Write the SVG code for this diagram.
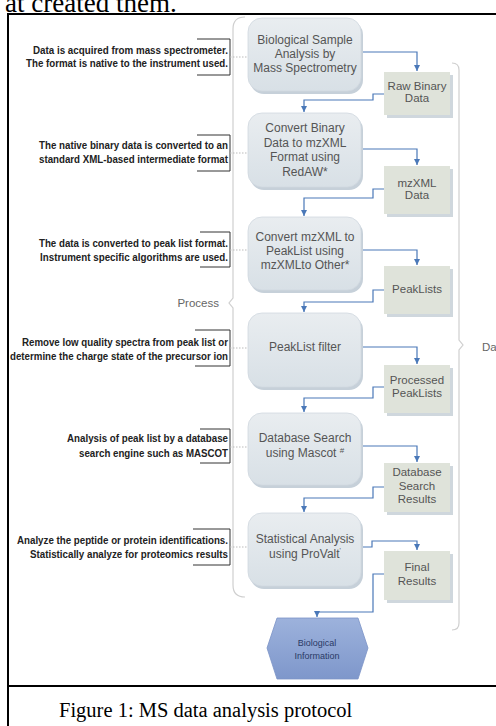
<svg xmlns="http://www.w3.org/2000/svg" width="496" height="726" viewBox="0 0 496 726">
<defs>
<linearGradient id="gNode" x1="0" y1="0" x2="0" y2="1">
<stop offset="0" stop-color="#e9edf0"/>
<stop offset="1" stop-color="#d8e0e6"/>
</linearGradient>
<linearGradient id="gHex" x1="0" y1="0" x2="0" y2="1">
<stop offset="0" stop-color="#9db2dc"/>
<stop offset="1" stop-color="#7e97cb"/>
</linearGradient>
<marker id="arr" markerUnits="userSpaceOnUse" markerWidth="8" markerHeight="8" viewBox="0 0 8 8" refX="4" refY="7" orient="auto-start-reverse">
<path d="M1,2 L7,2 L4,7 Z" fill="#4a78b8" transform="rotate(-90 4 4)"/>
</marker>
<marker id="ah" markerUnits="userSpaceOnUse" markerWidth="8" markerHeight="8" viewBox="0 0 8 8" refX="7" refY="4" orient="auto">
<path d="M1,1 L7,4 L1,7 Z" fill="#4a78b8"/>
</marker>
</defs>
<style>
.frame{fill:none;stroke:#000;stroke-width:2}
.ns{fill:#c6d0d9}
.nb{fill:url(#gNode);stroke:#d0d8df;stroke-width:0.8}
.nt{font-family:"Liberation Sans",Arial,sans-serif;font-size:12px;fill:#555;text-anchor:middle}
.ds{fill:#cfd7dd}
.db{fill:#dfe3da}
.dt{font-family:"Liberation Sans",Arial,sans-serif;font-size:11.5px;fill:#555;text-anchor:middle}
.lb{font-family:"Liberation Sans",Arial,sans-serif;font-size:10px;font-weight:bold;fill:#222;text-anchor:end}
.br{fill:none;stroke:#333;stroke-width:1}
.dot{fill:none;stroke:#bbb;stroke-width:1;stroke-dasharray:1.5 1.5}
.cb{fill:none;stroke:#cfcfcf;stroke-width:1.2}
.cn{fill:none;stroke:#4a78b8;stroke-width:1.2;marker-end:url(#ah)}
.side{font-family:"Liberation Sans",Arial,sans-serif;font-size:11.5px;fill:#666}
</style>
<rect width="496" height="726" fill="#fff"/>
<text x="5" y="12" font-family="'Liberation Serif','Times New Roman',serif" font-size="27" fill="#000">at created them.</text>
<path class="frame" d="M8,726 V14 H497"/>
<path class="frame" d="M8,686 H497"/>
<text x="59" y="717" font-family="'Liberation Serif','Times New Roman',serif" font-size="20.5" fill="#000">Figure 1: MS data analysis protocol</text>

<g id="process-bracket">
<path class="cb" d="M245,17 Q233,17 233,29 V298 L229,303 L233,308 V585 Q233,597 245,597"/>
<text class="side" x="219" y="307" text-anchor="end">Process</text>
</g>
<g id="data-bracket">
<path class="cb" d="M452,63 Q459,63 459,70 V340 L463,345 L459,350 V623 Q459,630 452,630"/>
<text class="side" x="482" y="351">Da</text>
</g>

<g id="label1">
<path class="br" d="M197,39 H230 V75 H197"/>
<path class="dot" d="M230,57 H248"/>
<text class="lb" x="228" y="53.5" textLength="195" lengthAdjust="spacingAndGlyphs">Data is acquired from mass spectrometer.</text>
<text class="lb" x="228" y="66.5" textLength="202" lengthAdjust="spacingAndGlyphs">The format is native to the instrument used.</text>
</g>
<g id="label2">
<path class="br" d="M197,135 H230 V171 H197"/>
<path class="dot" d="M230,153 H248"/>
<text class="lb" x="228" y="148.5" textLength="189" lengthAdjust="spacingAndGlyphs">The native binary data is converted to an</text>
<text class="lb" x="228" y="163" textLength="189" lengthAdjust="spacingAndGlyphs">standard XML-based intermediate format</text>
</g>
<g id="label3">
<path class="br" d="M200,232 H230 V267 H200"/>
<path class="dot" d="M230,250 H248"/>
<text class="lb" x="228" y="246.5" textLength="189" lengthAdjust="spacingAndGlyphs">The data is converted to peak list format.</text>
<text class="lb" x="228" y="260.5" textLength="188" lengthAdjust="spacingAndGlyphs">Instrument specific algorithms are used.</text>
</g>
<g id="label4">
<path class="br" d="M195,330 H230 V366 H195"/>
<path class="dot" d="M230,348 H248"/>
<text class="lb" x="228" y="345.5" textLength="206" lengthAdjust="spacingAndGlyphs">Remove low quality spectra from peak list or</text>
<text class="lb" x="228" y="359.5" textLength="218" lengthAdjust="spacingAndGlyphs">determine the charge state of the precursor ion</text>
</g>
<g id="label5">
<path class="br" d="M200,429 H230 V463 H200"/>
<path class="dot" d="M230,447 H248"/>
<text class="lb" x="228" y="441.5" textLength="161" lengthAdjust="spacingAndGlyphs">Analysis of peak list by a database</text>
<text class="lb" x="228" y="456.5" textLength="149" lengthAdjust="spacingAndGlyphs">search engine such as MASCOT</text>
</g>
<g id="label6">
<path class="br" d="M193,529 H230 V565 H193"/>
<path class="dot" d="M230,547 H248"/>
<text class="lb" x="228" y="543.5" textLength="211" lengthAdjust="spacingAndGlyphs">Analyze the peptide or protein identifications.</text>
<text class="lb" x="228" y="557.5" textLength="198" lengthAdjust="spacingAndGlyphs">Statistically analyze for proteomics results</text>
</g>

<g id="connectors">
<path class="cn" d="M361,52 H417 V71"/>
<path class="cn" d="M384,94 H373 V100 H304 V112"/>
<path class="cn" d="M361,149 H417 V165"/>
<path class="cn" d="M384,189 H373 V198 H304 V216"/>
<path class="cn" d="M361,250 H417 V265"/>
<path class="cn" d="M384,290 H373 V302 H304 V312"/>
<path class="cn" d="M361,347 H417 V364"/>
<path class="cn" d="M384,387 H373 V398 H304 V412"/>
<path class="cn" d="M361,446 H417 V462"/>
<path class="cn" d="M384,487 H373 V498 H304 V512"/>
<path class="cn" d="M361,547 H372 V541 H417 V550"/>
<path class="cn" d="M384,574 H373 V612 H317 V617"/>
</g>

<g id="n1">
<rect class="ns" x="250" y="21" width="113" height="73" rx="14"/>
<rect class="nb" x="248" y="18" width="113" height="73" rx="14"/>
<text class="nt" x="305" y="44">Biological Sample</text>
<text class="nt" x="305" y="58">Analysis by</text>
<text class="nt" x="305" y="72">Mass Spectrometry</text>
</g>
<g id="d1">
<rect class="ds" x="387" y="75" width="66" height="43"/>
<rect class="db" x="384" y="72" width="66" height="43"/>
<text class="dt" x="417" y="90">Raw Binary</text>
<text class="dt" x="417" y="102">Data</text>
</g>
<g id="n2">
<rect class="ns" x="250" y="116" width="113" height="74" rx="14"/>
<rect class="nb" x="248" y="113" width="113" height="74" rx="14"/>
<text class="nt" x="305" y="132">Convert Binary</text>
<text class="nt" x="305" y="146.5">Data to mzXML</text>
<text class="nt" x="305" y="161">Format using</text>
<text class="nt" x="305" y="175.5">RedAW*</text>
</g>
<g id="d2">
<rect class="ds" x="387" y="169" width="66" height="48"/>
<rect class="db" x="384" y="166" width="66" height="48"/>
<text class="dt" x="417" y="187">mzXML</text>
<text class="dt" x="417" y="199">Data</text>
</g>
<g id="n3">
<rect class="ns" x="250" y="220" width="113" height="73" rx="14"/>
<rect class="nb" x="248" y="217" width="113" height="73" rx="14"/>
<text class="nt" x="305" y="241">Convert mzXML to</text>
<text class="nt" x="305" y="255">PeakList using</text>
<text class="nt" x="305" y="269">mzXMLto Other*</text>
</g>
<g id="d3">
<rect class="ds" x="387" y="269" width="66" height="48"/>
<rect class="db" x="384" y="266" width="66" height="48"/>
<text class="dt" x="417" y="293">PeakLists</text>
</g>
<g id="n4">
<rect class="ns" x="250" y="316" width="113" height="74" rx="14"/>
<rect class="nb" x="248" y="313" width="113" height="74" rx="14"/>
<text class="nt" x="305" y="351">PeakList filter</text>
</g>
<g id="d4">
<rect class="ds" x="387" y="368" width="66" height="48"/>
<rect class="db" x="384" y="365" width="66" height="48"/>
<text class="dt" x="417" y="384">Processed</text>
<text class="dt" x="417" y="397">PeakLists</text>
</g>
<g id="n5">
<rect class="ns" x="250" y="416" width="113" height="72" rx="14"/>
<rect class="nb" x="248" y="413" width="113" height="72" rx="14"/>
<text class="nt" x="305" y="442">Database Search</text>
<text class="nt" x="305" y="457">using Mascot <tspan font-size="8" dy="-4">#</tspan></text>
</g>
<g id="d5">
<rect class="ds" x="387" y="466" width="66" height="49"/>
<rect class="db" x="384" y="463" width="66" height="49"/>
<text class="dt" x="417" y="476">Database</text>
<text class="dt" x="417" y="489.5">Search</text>
<text class="dt" x="417" y="503">Results</text>
</g>
<g id="n6">
<rect class="ns" x="250" y="516" width="113" height="73" rx="14"/>
<rect class="nb" x="248" y="513" width="113" height="73" rx="14"/>
<text class="nt" x="305" y="543">Statistical Analysis</text>
<text class="nt" x="305" y="558">using ProValt<tspan font-size="7" dy="-5">'</tspan></text>
</g>
<g id="d6">
<rect class="ds" x="387" y="554" width="66" height="49"/>
<rect class="db" x="384" y="551" width="66" height="49"/>
<text class="dt" x="417" y="571">Final</text>
<text class="dt" x="417" y="585">Results</text>
</g>
<g id="bio">
<polygon points="277,618 358,618 368,648 358,679 277,679 267,648" fill="url(#gHex)" stroke="#7b93c6" stroke-width="0.8"/>
<text x="317" y="646" font-family="'Liberation Sans',Arial,sans-serif" font-size="9" fill="#2a3a66" text-anchor="middle">Biological</text>
<text x="317" y="659" font-family="'Liberation Sans',Arial,sans-serif" font-size="9" fill="#2a3a66" text-anchor="middle">Information</text>
</g>
</svg>
